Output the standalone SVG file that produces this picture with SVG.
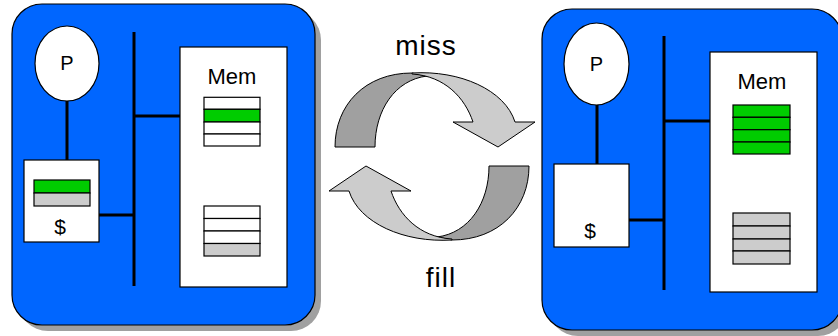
<svg xmlns="http://www.w3.org/2000/svg" width="838" height="336" viewBox="0 0 838 336">
<style>
.panel{fill:#0066ff;stroke:#000;stroke-width:1.2}
.shadow{fill:#a0a0a0}
.box{fill:#fff;stroke:#000;stroke-width:1.2}
.wire{stroke:#000;stroke-width:3;fill:none}
.row{stroke:#000;stroke-width:1.2}
.w{fill:#fff}
.g{fill:#00cc00}
.s{fill:#cccccc}
.t{font-family:"Liberation Sans",Arial,sans-serif;fill:#000;text-anchor:middle}
.dark{fill:#a0a0a0;stroke:#000;stroke-width:1}
.light{fill:#cccccc;stroke:#000;stroke-width:1}
</style>
<rect width="838" height="336" fill="#fff"/>

<g id="left-system">
  <rect class="shadow" x="18" y="10" width="303" height="321" rx="30"/>
  <rect class="panel" x="12" y="4" width="303" height="321" rx="30"/>
  <g id="left-wires">
    <line class="wire" x1="67" y1="100" x2="67" y2="160"/>
    <line class="wire" x1="134" y1="32" x2="134" y2="286"/>
    <line class="wire" x1="99" y1="215" x2="134" y2="215"/>
    <line class="wire" x1="134" y1="116" x2="180" y2="116"/>
  </g>
  <g id="left-P">
    <ellipse class="box" cx="67" cy="63.5" rx="32" ry="37.5"/>
    <text class="t" x="67" y="70" font-size="20">P</text>
  </g>
  <g id="left-cache">
    <rect class="box" x="24" y="160" width="75" height="82"/>
    <rect class="row g" x="34" y="180" width="56" height="13"/>
    <rect class="row s" x="34" y="193" width="56" height="13"/>
    <text class="t" x="60" y="234" font-size="21">$</text>
  </g>
  <g id="left-mem">
    <rect class="box" x="180" y="47" width="107" height="240"/>
    <text class="t" x="232" y="84" font-size="22">Mem</text>
    <rect class="row w" x="204" y="97.3" width="56" height="12"/>
    <rect class="row g" x="204" y="109.3" width="56" height="12.7"/>
    <rect class="row w" x="204" y="122" width="56" height="12"/>
    <rect class="row w" x="204" y="134" width="56" height="12"/>
    <rect class="row w" x="204" y="206" width="56" height="12.5"/>
    <rect class="row w" x="204" y="218.5" width="56" height="12.5"/>
    <rect class="row w" x="204" y="231" width="56" height="12.5"/>
    <rect class="row s" x="204" y="243.5" width="56" height="12.5"/>
  </g>
</g>

<g id="right-system">
  <rect class="shadow" x="548" y="15" width="300" height="321" rx="30"/>
  <rect class="panel" x="542" y="9" width="300" height="321" rx="30"/>
  <g id="right-wires">
    <line class="wire" x1="597" y1="104" x2="597" y2="164"/>
    <line class="wire" x1="664" y1="36" x2="664" y2="290"/>
    <line class="wire" x1="629" y1="220" x2="664" y2="220"/>
    <line class="wire" x1="664" y1="121" x2="710" y2="121"/>
  </g>
  <g id="right-P">
    <ellipse class="box" cx="596.5" cy="64" rx="32.5" ry="41"/>
    <text class="t" x="596.5" y="71" font-size="20">P</text>
  </g>
  <g id="right-cache">
    <rect class="box" x="554" y="164" width="75" height="83"/>
    <text class="t" x="590" y="238" font-size="21">$</text>
  </g>
  <g id="right-mem">
    <rect class="box" x="710" y="52" width="107" height="240"/>
    <text class="t" x="762" y="89" font-size="22">Mem</text>
    <rect class="row g" x="733" y="105" width="57" height="12.3"/>
    <rect class="row g" x="733" y="117.3" width="57" height="12.4"/>
    <rect class="row g" x="733" y="129.7" width="57" height="12.3"/>
    <rect class="row g" x="733" y="142" width="57" height="12"/>
    <rect class="row s" x="733" y="213" width="57" height="13"/>
    <rect class="row s" x="733" y="226" width="57" height="13"/>
    <rect class="row s" x="733" y="239" width="57" height="12"/>
    <rect class="row s" x="733" y="251" width="57" height="13"/>
  </g>
</g>

<g id="connectors">
  <g id="miss-arrow">
    <path class="dark" d="M335,147 C335,105 365,73 412,73 L427,76 C395,80 375,110 375,147 Z"/>
    <path class="light" d="M412,73 C460,70 505,90 515,122 L535,122 L498,147 L453,122 L473,122 C465,98 445,76 412,74 Z"/>
  </g>
  <g id="fill-arrow" transform="rotate(180 432 156.5)">
    <path class="dark" d="M335,147 C335,105 365,73 412,73 L427,76 C395,80 375,110 375,147 Z"/>
    <path class="light" d="M412,73 C460,70 505,90 515,122 L535,122 L498,147 L453,122 L473,122 C465,98 445,76 412,74 Z"/>
  </g>
  <text class="t" x="426" y="55" font-size="28" letter-spacing="1">miss</text>
  <text class="t" x="441" y="287" font-size="28" letter-spacing="1">fill</text>
</g>
</svg>
